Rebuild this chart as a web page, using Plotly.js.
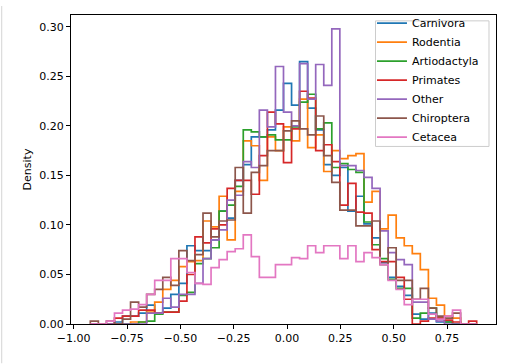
<!DOCTYPE html>
<html><head><meta charset="utf-8">
<script src="https://cdn.plot.ly/plotly-3.0.1.min.js"></script>
<style>html,body{margin:0;padding:0;background:#fff;} #chart{width:516px;height:364px;}</style>
</head><body><div id="chart"></div>
<script>
// Bin edges of the shared histogram bins
const binEdges = [-0.9220,-0.8843,-0.8465,-0.8088,-0.7711,-0.7334,-0.6956,-0.6579,-0.6202,-0.5824,
  -0.5447,-0.5070,-0.4692,-0.4315,-0.3938,-0.3561,-0.3183,-0.2806,-0.2429,-0.2051,
  -0.1674,-0.1297,-0.0919,-0.0542,-0.0165,0.0213,0.0590,0.0967,0.1344,0.1722,
  0.2099,0.2476,0.2854,0.3231,0.3608,0.3986,0.4363,0.4740,0.5117,0.5495,
  0.5872,0.6249,0.6627,0.7004,0.7381,0.7759,0.8136,0.8513,0.8890];

const seriesNames = ["Carnivora","Rodentia","Artiodactyla","Primates","Other","Chiroptera","Cetacea"];

const carnivora = [0,0,0,0.002,0.008,0.008,0.011,0.019,0.011,0.016,
  0.030,0.041,0.079,0.074,0.074,0.085,0.114,0.107,0.145,0.161,
  0.189,0.189,0.196,0.216,0.243,0.221,0.265,0.218,0.196,0.161,
  0.150,0.158,0.114,0.129,0.101,0.087,0.062,0.047,0.038,0.029,
  0.010,0.005,0.011,0.002,0.002,0,0,0];
const rodentia = [0,0,0,0,0,0.002,0.002,0.012,0.022,0.035,
  0.044,0.058,0.063,0.064,0.104,0.098,0.129,0.085,0.134,0.185,
  0.180,0.145,0.189,0.175,0.199,0.185,0.227,0.178,0.191,0.154,
  0.175,0.167,0.170,0.172,0.123,0.134,0.096,0.110,0.087,0.079,
  0.071,0.055,0.026,0.019,0.008,0.006,0,0];
const artiodactyla = [0,0,0,0,0,0,0.002,0.003,0.010,0.012,
  0.012,0.029,0.032,0.061,0.066,0.077,0.114,0.120,0.139,0.196,
  0.194,0.189,0.191,0.186,0.186,0.199,0.224,0.232,0.197,0.203,
  0.158,0.162,0.156,0.153,0.103,0.080,0.066,0.045,0.036,0.036,
  0.006,0.011,0.016,0.006,0.002,0,0,0];
const primates = [0,0,0,0.006,0.008,0.008,0.014,0.014,0.011,0.012,
  0.012,0.023,0.050,0.088,0.082,0.096,0.100,0.137,0.145,0.145,
  0.131,0.170,0.214,0.202,0.163,0.197,0.235,0.228,0.175,0.181,
  0.164,0.120,0.142,0.113,0.112,0.075,0.063,0.063,0.047,0.025,
  0,0.003,0.006,0.006,0.004,0.002,0,0.003];
const other = [0,0,0,0,0,0,0,0.011,0.011,0.026,
  0.017,0.030,0.030,0.041,0.066,0.085,0.095,0.125,0.130,0.164,
  0.158,0.216,0.199,0.260,0.214,0.200,0.263,0.227,0.262,0.241,
  0.298,0.160,0.160,0.155,0.148,0.137,0.094,0.072,0.065,0.060,
  0.022,0.022,0.005,0.003,0,0,0,0];
const chiroptera = [0.003,0,0.003,0,0.005,0.022,0.017,0.030,0.035,0.047,
  0.039,0.074,0.064,0.070,0.112,0.088,0.104,0.105,0.158,0.112,
  0.153,0.160,0.175,0.175,0.195,0.205,0.197,0.191,0.210,0.170,
  0.143,0.115,0.115,0.099,0.099,0.104,0.060,0.077,0.044,0.044,
  0.025,0.036,0.016,0.008,0.006,0.011,0,0];
const cetacea = [0,0,0.003,0.011,0.014,0.015,0.0195,0.030,0.044,0.044,
  0.066,0.066,0.052,0.041,0.040,0.057,0.065,0.073,0.076,0.090,
  0.068,0.047,0.047,0.060,0.060,0.067,0.066,0.079,0.072,0.079,
  0.079,0.066,0.079,0.063,0.072,0.067,0.060,0.044,0.035,0.0195,
  0.025,0.025,0.010,0.005,0.008,0.014,0,0];

const seriesValues = [carnivora, rodentia, artiodactyla, primates, other, chiroptera, cetacea];
const colors = ["#1f77b4","#ff7f0e","#2ca02c","#d62728","#9467bd","#8c564b","#e377c2"];

function stepXY(edges, h) {
  const x = [edges[0]], y = [0];
  for (let i = 0; i < h.length; i++) { x.push(edges[i]); y.push(h[i]); }
  x.push(edges[h.length]); y.push(0);
  return {x: x, y: y};
}

const traces = seriesValues.map(function(vals, i) {
  const s = stepXY(binEdges, vals);
  return {
    type: 'scatter', mode: 'lines', name: seriesNames[i],
    x: s.x, y: s.y,
    line: {shape: 'hv', color: colors[i], width: 1.7},
    hoverinfo: 'skip'
  };
});

const axisCommon = {
  showline: true, linecolor: '#000', linewidth: 1, mirror: true,
  ticks: 'outside', ticklen: 4, tickwidth: 1, tickcolor: '#000',
  showgrid: false, zeroline: false, tickformat: '.2f',
  tickfont: {family: 'DejaVu Sans', size: 11, color: '#000'}
};

const layout = {
  width: 516, height: 364,
  margin: {l: 71, r: 20, t: 9, b: 40},
  paper_bgcolor: '#fff', plot_bgcolor: '#fff',
  font: {family: 'DejaVu Sans', size: 11, color: '#000'},
  xaxis: Object.assign({}, axisCommon, {range: [-1.0126, 0.9796], tickmode: 'linear', tick0: 0, dtick: 0.25}),
  yaxis: Object.assign({}, axisCommon, {range: [0, 0.312], tickmode: 'linear', tick0: 0, dtick: 0.05,
    title: {text: 'Density', font: {family: 'DejaVu Sans', size: 11, color: '#000'}, standoff: 5}}),
  showlegend: true,
  legend: {x: 0.9717, y: 1.0206, xanchor: 'right', yanchor: 'top',
    borderwidth: 0, bgcolor: 'rgba(0,0,0,0)',
    font: {family: 'DejaVu Sans', size: 11, color: '#000'}, itemwidth: 30, tracegroupgap: 0},
  shapes: [
    {type: 'line', xref: 'paper', yref: 'paper', x0: -0.163, x1: -0.163, y0: -0.127, y1: 1.029,
      line: {color: '#d4d4d4', width: 1}},
    {type: 'rect', xref: 'paper', yref: 'paper', x0: 0.7165, x1: 0.9835, y0: 0.5746, y1: 0.981,
      fillcolor: 'rgba(255,255,255,0.8)', line: {color: '#cccccc', width: 1}, layer: 'above'}
  ]
};

Plotly.newPlot('chart', traces, layout, {displayModeBar: false, staticPlot: true});
</script>
</body></html>
